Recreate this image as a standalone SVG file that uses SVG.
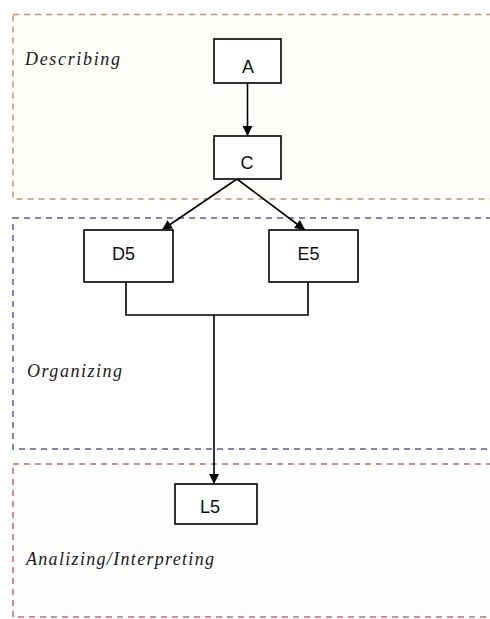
<svg xmlns="http://www.w3.org/2000/svg" width="490" height="619" viewBox="0 0 490 619">
  <style>
    .frame { stroke-width: 1.5; stroke-dasharray: 6 5; }
    .phase { font-family: "Liberation Serif", "DejaVu Serif", serif; font-style: italic; font-size: 18px; fill: #1a1a1a; }
    .box { fill: #ffffff; stroke: #000000; stroke-width: 1.6; }
    .label { font-family: "Liberation Sans", "DejaVu Sans", sans-serif; font-size: 18px; fill: #111111; text-anchor: middle; }
    .link { fill: none; stroke: #000000; stroke-width: 1.6; }
  </style>
  <defs>
    <marker id="arrow" viewBox="0 0 10 10" refX="10" refY="5" markerWidth="11" markerHeight="10" markerUnits="userSpaceOnUse" orient="auto">
      <path d="M0,0 L10,5 L0,10 Z" fill="#000000"/>
    </marker>
  </defs>

  <rect width="490" height="619" fill="#ffffff"/>

  <!-- phase frames (open to the right edge) -->
  <g id="frame-describing">
    <rect class="frame" x="13" y="14.5" width="490" height="184.5" fill="#fffefa" stroke="#c4946e"/>
    <text class="phase" x="25" y="65" textLength="95" lengthAdjust="spacing">Describing</text>
  </g>
  <g id="frame-organizing">
    <rect class="frame" x="13" y="218" width="490" height="231" fill="#ffffff" stroke="#5a5a9e"/>
    <text class="phase" x="27" y="377" textLength="95" lengthAdjust="spacing">Organizing</text>
  </g>
  <g id="frame-analizing">
    <rect class="frame" x="13" y="464" width="490" height="153" fill="#fffefe" stroke="#c06a6a"/>
    <text class="phase" x="26" y="565" textLength="188" lengthAdjust="spacing">Analizing/Interpreting</text>
  </g>

  <!-- connectors -->
  <g id="connectors">
    <line class="link" x1="247.5" y1="83" x2="247.5" y2="136" marker-end="url(#arrow)"/>
    <line class="link" x1="237" y1="179" x2="162" y2="230" marker-end="url(#arrow)"/>
    <line class="link" x1="237" y1="179" x2="305" y2="230" marker-end="url(#arrow)"/>
    <path class="link" d="M126,282 V315 H308 V282"/>
    <line class="link" x1="214" y1="315" x2="214" y2="484" marker-end="url(#arrow)"/>
  </g>

  <!-- nodes -->
  <g id="node-A">
    <rect class="box" x="214" y="39" width="67" height="44"/>
    <text class="label" x="248" y="73">A</text>
  </g>
  <g id="node-C">
    <rect class="box" x="214" y="136" width="67" height="43"/>
    <text class="label" x="247" y="169">C</text>
  </g>
  <g id="node-D5">
    <rect class="box" x="84" y="230" width="89" height="52"/>
    <text class="label" x="123.5" y="260">D5</text>
  </g>
  <g id="node-E5">
    <rect class="box" x="269" y="230" width="89" height="52"/>
    <text class="label" x="308.5" y="260">E5</text>
  </g>
  <g id="node-L5">
    <rect class="box" x="175" y="484" width="82" height="40"/>
    <text class="label" x="210" y="513">L5</text>
  </g>
</svg>
